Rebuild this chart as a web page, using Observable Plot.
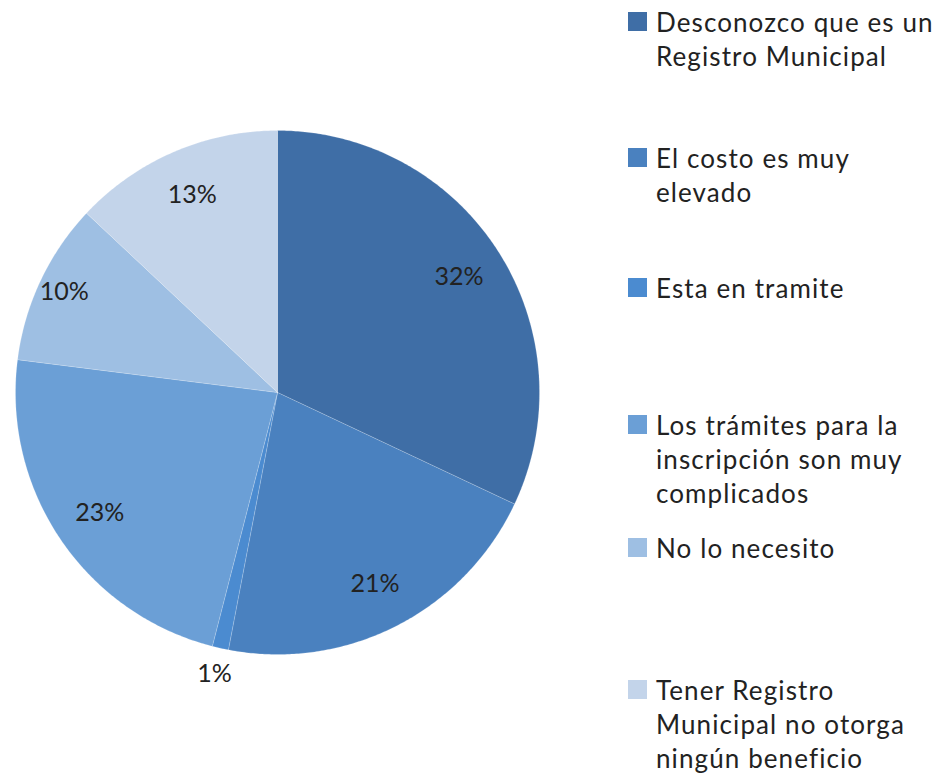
<!DOCTYPE html>
<html>
<head>
<meta charset="utf-8">
<script src="https://cdn.jsdelivr.net/npm/d3@7"></script>
<script src="https://cdn.jsdelivr.net/npm/@observablehq/plot@0.6"></script>
<style>
  html, body { margin: 0; padding: 0; background: #fff; }
  #wrap { position: relative; width: 944px; height: 781px; font-family: Lato, "Open Sans", sans-serif; }
  #chart { position: absolute; left: 0; top: 0; }
  #legend { position: absolute; left: 0; top: 0; width: 944px; height: 781px; pointer-events: none; }
  .item { position: absolute; left: 628px; display: flex; align-items: flex-start; }
  .sw { width: 19px; height: 19px; margin-top: 7px; margin-right: 9px; flex: none; }
  .lbl { font-size: 26px; line-height: 34px; letter-spacing: 1.1px; color: #222; white-space: pre; }
</style>
</head>
<body>
<div id="wrap">
  <div id="chart"></div>
  <div id="legend"></div>
</div>
<script>
const categories = [
  "Desconozco que es un Registro Municipal",
  "El costo es muy elevado",
  "Esta en tramite",
  "Los trámites para la inscripción son muy complicados",
  "No lo necesito",
  "Tener Registro Municipal no otorga ningún beneficio"
];
const legendLines = [
  ["Desconozco que es un", "Registro Municipal"],
  ["El costo es muy", "elevado"],
  ["Esta en tramite"],
  ["Los trámites para la", "inscripción son muy", "complicados"],
  ["No lo necesito"],
  ["Tener Registro", "Municipal no otorga", "ningún beneficio"]
];
const values = [32, 21, 1, 23, 10, 13];
const colors = ["#3f6ea6", "#4a81bf", "#4b8bd0", "#6b9fd6", "#9ebfe3", "#c3d4ea"];

const pie = d3.pie().sort(null).value(d => d.value).startAngle(0).endAngle(2 * Math.PI);
const arcs = pie(categories.map((c, i) => ({category: c, value: values[i]})));

// polygon points for each slice (unit circle, angle clockwise from 12 o'clock)
const pts = [];
for (const a of arcs) {
  const c = a.data.category;
  pts.push({category: c, x: 0, y: 0});
  const n = Math.max(2, Math.ceil((a.endAngle - a.startAngle) / (Math.PI / 360)));
  for (let k = 0; k <= n; k++) {
    const t = a.startAngle + (a.endAngle - a.startAngle) * k / n;
    pts.push({category: c, x: Math.sin(t), y: Math.cos(t)});
  }
  pts.push({category: c, x: 0, y: 0});
}

const labels = arcs.map(a => {
  const m = (a.startAngle + a.endAngle) / 2;
  const r = a.data.value < 5 ? 1.1 : (a.data.value === 10 ? 0.9 : 0.82);
  return {text: a.data.value + "%", x: r * Math.sin(m), y: r * Math.cos(m)};
});

const plot = Plot.plot({
  width: 600,
  height: 781,
  margin: 0,
  x: {domain: [-1, 1], range: [15, 539], axis: null},
  y: {domain: [-1, 1], range: [654, 130], axis: null},
  color: {domain: categories, range: colors},
  marks: [
    Plot.line(pts, {x: "x", y: "y", z: "category", fill: "category", stroke: "#ffffff", strokeWidth: 0.6, strokeOpacity: 0.3}),
    Plot.text(labels, {x: "x", y: "y", text: "text", fontSize: 25, fill: "#222", fontFamily: "Lato, 'Open Sans', sans-serif", style: "letter-spacing:1px"})
  ]
});
document.getElementById("chart").appendChild(plot);

const tops = [5, 141, 271, 408, 531, 673];
const legend = document.getElementById("legend");
legendLines.forEach((lines, i) => {
  const item = document.createElement("div");
  item.className = "item";
  item.style.top = tops[i] + "px";
  const sw = document.createElement("div");
  sw.className = "sw";
  sw.style.background = colors[i];
  const lb = document.createElement("div");
  lb.className = "lbl";
  lb.textContent = lines.join("\n");
  item.appendChild(sw);
  item.appendChild(lb);
  legend.appendChild(item);
});
</script>
</body>
</html>
